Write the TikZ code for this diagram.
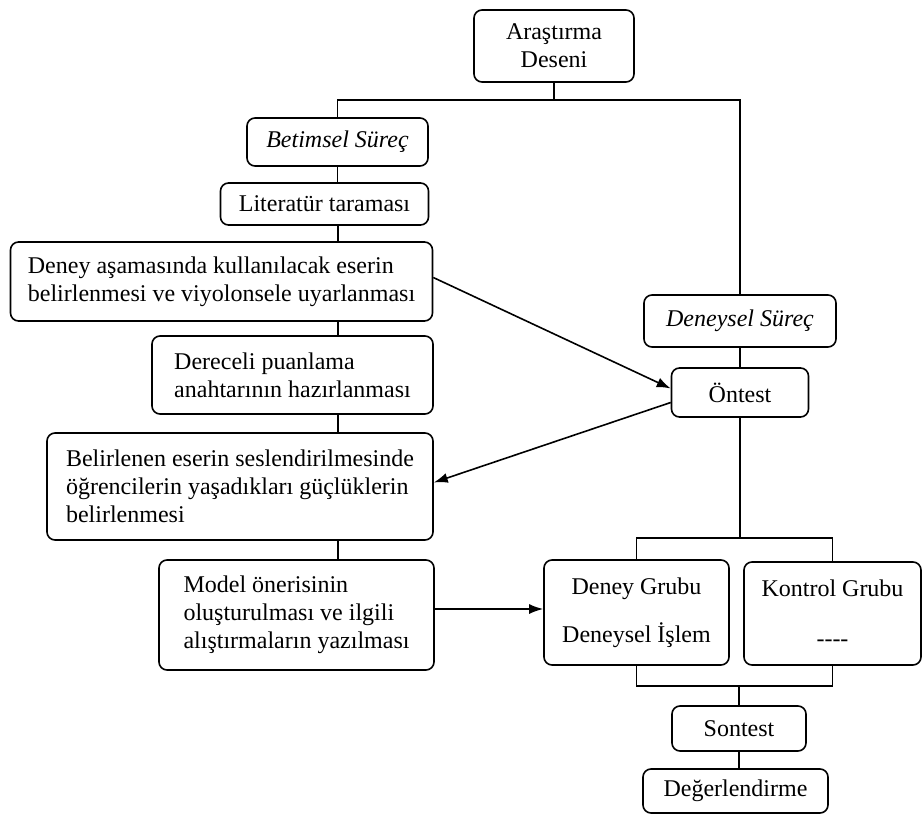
\documentclass[tikz,border=0pt]{standalone}
\usepackage{fontspec}
\setmainfont{Liberation Serif}
\usetikzlibrary{positioning,arrows.meta}

\begin{document}
\begin{tikzpicture}[x=0.5pt,y=-0.5pt,>={Latex[length=7pt,width=5pt]},
    box/.style={rectangle,draw,rounded corners=4pt,line width=0.8pt,font=\fontsize{12}{14}\selectfont},
    link/.style={line width=0.8pt}]
    \useasboundingbox (0,0) rectangle (922,814);

    % Design
    \node[box,minimum width=80pt,minimum height=36pt,align=center] (design) at (554,46) {Araştırma\\Deseni};

    % Descriptive branch
    \node[box,minimum width=90.5pt,minimum height=24pt,font=\fontsize{12}{14}\selectfont\itshape] (desc) at (337.5,142) {Betimsel Süreç};
    \node[box,minimum width=104pt,minimum height=21pt] (lit) at (324.5,204) {Literatür taraması};
    \node[box,minimum width=211pt,minimum height=39.5pt,align=left] (work) at (221.5,281.5) {Deney aşamasında kullanılacak eserin\\belirlenmesi ve viyolonsele uyarlanması};
    \node[box,minimum width=140.5pt,minimum height=39pt,align=left] (rubric) at (292.5,375) {Dereceli puanlama\\anahtarının hazırlanması};
    \node[box,minimum width=193pt,minimum height=53.5pt,align=left] (diffic) at (240,486.5) {Belirlenen eserin seslendirilmesinde\\öğrencilerin yaşadıkları güçlüklerin\\belirlenmesi};
    \node[box,minimum width=137.5pt,minimum height=55pt,align=left] (model) at (296.5,615) {Model önerisinin\\oluşturulması ve ilgili\\alıştırmaların yazılması};

    % Experimental branch
    \node[box,minimum width=96pt,minimum height=26pt,font=\fontsize{12}{14}\selectfont\itshape] (exper) at (740,321) {Deneysel Süreç};
    \node[box,minimum width=68.5pt,minimum height=24.5pt] (pretest) at (740,392.5) {Öntest};
    \node[box,minimum width=92.5pt,minimum height=52.5pt,align=center] (expgrp) at (636.5,612.5) {Deney Grubu\\[10pt]Deneysel İşlem};
    \node[box,minimum width=88.5pt,minimum height=51.5pt,align=center] (ctrlgrp) at (832.5,613.5) {Kontrol Grubu\\[11pt]-{}-{}-{}-};
    \node[box,minimum width=67pt,minimum height=22.5pt] (posttest) at (739,728.5) {Sontest};
    \node[box,minimum width=92.5pt,minimum height=22pt] (eval) at (735.5,791) {Değerlendirme};

    % Lines
    \coordinate (spine) at (338,0);
    \draw[link] (design.south) -- ++(0,17) coordinate (topj);
    \draw[link] (desc.north) |- (topj) -| (exper.north);
    \draw[link] (desc.south) -- (desc.south |- lit.north);
    \draw[link] (spine |- lit.south) -- (spine |- work.north);
    \draw[link] (spine |- work.south) -- (spine |- rubric.north);
    \draw[link] (spine |- rubric.south) -- (spine |- diffic.north);
    \draw[link] (spine |- diffic.south) -- (spine |- model.north);
    \draw[link] (exper.south) -- (pretest.north);
    \draw[link] (pretest.south) -- ++(0,120) coordinate (grpj);
    \draw[link] (expgrp.north) |- (grpj) -| (ctrlgrp.north);
    \draw[link] (posttest.north) -- ++(0,-19) coordinate (postj);
    \draw[link] (expgrp.south) |- (postj) -| (ctrlgrp.south);
    \draw[link] (posttest.south) -- (posttest.south |- eval.north);

    % Arrows
    \draw[link,->] ([yshift=2pt]work.east) -- ([yshift=2pt]pretest.west);
    \draw[link,->] ([yshift=-5pt]pretest.west) -- ([yshift=2pt]diffic.east);
    \draw[link,->] ([yshift=3pt]model.east) -- ([yshift=3pt]model.east -| expgrp.west);
\end{tikzpicture}
\end{document}
